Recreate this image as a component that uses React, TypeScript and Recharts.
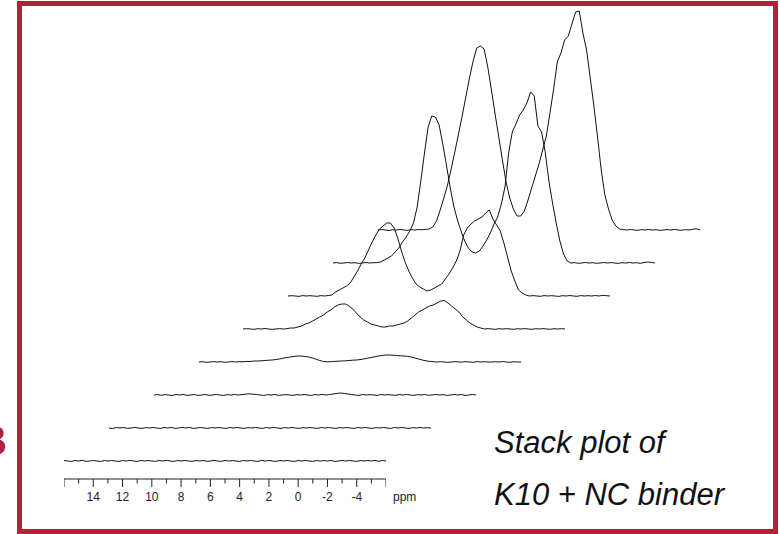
import React from 'react';
import { LineChart, Line, XAxis, YAxis } from 'recharts';

// chemical shift grid (ppm)
const PPM = [
  16, 15.75, 15.5, 15.25,
  15, 14.75, 14.5, 14.25,
  14, 13.75, 13.5, 13.25,
  13, 12.75, 12.5, 12.25,
  12, 11.75, 11.5, 11.25,
  11, 10.75, 10.5, 10.25,
  10, 9.75, 9.5, 9.25,
  9, 8.75, 8.5, 8.25,
  8, 7.75, 7.5, 7.25,
  7, 6.75, 6.5, 6.25,
  6, 5.75, 5.5, 5.25,
  5, 4.75, 4.5, 4.25,
  4, 3.75, 3.5, 3.25,
  3, 2.75, 2.5, 2.25,
  2, 1.75, 1.5, 1.25,
  1, 0.75, 0.5, 0.25,
  0, -0.25, -0.5, -0.75,
  -1, -1.25, -1.5, -1.75,
  -2, -2.25, -2.5, -2.75,
  -3, -3.25, -3.5, -3.75,
  -4, -4.25, -4.5, -4.75,
  -5, -5.25, -5.5, -5.75,
  -6,
];

const AXIS_TICKS = [16, 15, 14, 13, 12, 11, 10, 9, 8, 7, 6, 5, 4, 3, 2, 1, 0, -1, -2, -3, -4, -5, -6];
const LABELLED_TICKS = [14, 12, 10, 8, 6, 4, 2, 0, -2, -4];
const AXIS_UNIT = 'ppm';
const CAPTION = ['Stack plot of', 'K10 + NC binder'];
const PANEL_LETTER = 'B';

// spectra, bottom (1) to top (8)
const SPEC_1 = [
  0.5, 0, -0.4, 0.5,
  0, 0.6, -0.3, 0,
  0.5, 0, -0.5, 0.4,
  0, 0.5, 0, -0.4,
  0.5, 0, 0.6, 0,
  -0.4, 0.5, 0, 0.5,
  0, -0.4, 0.5, 0,
  0.6, 0, -0.4, 0.5,
  0, 0.5, 0, -0.4,
  0.5, 0, 0.5, -0.3,
  0, 0.6, 0, -0.4,
  0.5, 0, 0.4, 0,
  -0.4, 0.5, 0, 0.5,
  0, -0.4, 0.6, 0,
  0.5, 0, -0.4, 0.5,
  0, 0.5, 0, -0.4,
  0.5, 0, 0.5, 0,
  -0.4, 0.5, 0, 0.4,
  0, 0.5, -0.4, 0,
  0.5, 0, 0.5, 0,
  -0.4, 0.5, 0, 0.5,
  0, 0.6, -0.3, 0.5,
  0,
];
const SPEC_2 = [
  0, -0.5, 0.5, 0,
  0.5, -0.4, 0, 0.6,
  0, -0.4, 0.4, 0,
  0.5, 0, -0.5, 0.5,
  0, 0.5, -0.3, 0,
  0.5, 0, 0.6, -0.4,
  0, 0.5, 0, -0.4,
  0.5, 0, 0.5, 0,
  -0.4, 0.5, 0, 0.5,
  0, -0.4, 0.4, 0,
  0.5, 0, -0.4, 0.5,
  0, 0.6, 0, -0.4,
  0.4, 0, 0.5, 0,
  -0.4, 0.4, 0, 0.5,
  0, -0.4, 0.5, 0,
  0.5, 0, -0.4, 0.4,
  0, 0.5, 0, -0.4,
  0.5, 0, 0.5, 0,
  -0.4, 0.4, 0, 0.5,
  0, -0.4, 0.5, 0,
  0.5, 0, -0.4, 0.4,
  0, 0.5, 0, 0.3,
  0,
];
const SPEC_3 = [
  0, 0.5, -0.4, 0.4,
  0, -0.5, 0.5, 0,
  0.6, -0.4, 0, 0.5,
  -0.4, 0, 0.5, -0.3,
  0, 0.5, 0, -0.4,
  0.3, 0, 0.5, 0,
  0.4, 0.8, 1.2, 0.8,
  0.5, 0, -0.4, 0.3,
  0, 0.5, -0.3, 0,
  0.4, 0, -0.4, 0.3,
  0, 0.5, 0, -0.4,
  0.4, 0, 0.6, 0,
  0.5, 1, 1.6, 2,
  1.6, 1, 0.5, 0,
  -0.4, 0.5, 0, 0.4,
  0, -0.4, 0.5, 0,
  0.4, 0, -0.4, 0.5,
  0, 0.5, 0, -0.4,
  0.4, 0, 0.5, -0.3,
  0, 0.5, 0, 0.4,
  -0.4, 0, 0.5, 0,
  0.5, -0.4, 0, 0.5,
  0,
];
const SPEC_4 = [
  0, 0.3, -0.3, 0,
  0.4, 0, 0.3, -0.3,
  0, 0.4, 0, 0.3,
  0.2, 0.6, 0.5, 1,
  1, 1.2, 1.5, 1.8,
  2, 2.5, 3, 3.8,
  4.5, 5, 5.6, 6,
  6, 5.5, 5, 4,
  2.8, 1.5, 0.5, 0.2,
  0.3, 0.6, 0.8, 1,
  1.2, 1.5, 1.8, 2,
  2.4, 3, 3.8, 4.5,
  5.2, 6, 6.5, 7,
  7, 6.8, 6.5, 6.2,
  6, 5.6, 5, 4,
  3, 2, 1.2, 0.6,
  0.3, 0, 0.3, 0,
  -0.3, 0, 0.4, 0,
  0, 0.3, 0, -0.3,
  0.4, 0, 0.3, 0,
  0, 0.3, 0, 0.4,
  0, -0.3, 0.3, 0,
  0,
];
const SPEC_5 = [
  0, 0.4, 0, -0.3,
  0.3, 0, 0.5, 0,
  -0.3, 0, 0.4, 0,
  0.3, 1, 1, 2,
  3, 5, 6, 8,
  10, 12, 14, 17,
  19, 22, 24, 25,
  25, 23, 20, 16,
  12, 9, 7, 5,
  4, 3, 2, 2,
  3, 3, 4, 5,
  6, 8, 11, 14,
  17, 19, 21, 23,
  24, 26, 28, 28.5,
  26, 23, 20, 17,
  12.5, 9, 6, 4,
  2, 1, 0, 0.4,
  0, -0.3, 0.3, 0,
  0.4, 0, -0.3, 0.3,
  0, 0.4, 0, -0.3,
  0.3, 0, 0.4, 0,
  -0.3, 0.3, 0, 0.4,
  0,
];
const SPEC_6 = [
  0, 0.3, 0, -0.4,
  0.4, 0, 0.3, 0,
  -0.3, 0.4, 0, 0.5,
  1, 4, 6, 8,
  10, 13, 19, 25,
  32, 38, 46, 54,
  61, 67, 70, 73,
  73, 68, 58, 45,
  34, 25, 18, 12,
  9, 7, 5, 6,
  8, 10, 12, 17,
  22, 28, 35, 45,
  61, 68, 72, 75,
  77, 79, 83, 86,
  77, 71, 65, 53,
  39, 25, 15, 6,
  3, 1, 0, 0.4,
  0, -0.3, 0.4, 0,
  0.3, 0, -0.4, 0.3,
  0, 0.5, 0, -0.3,
  0.4, 0, 0.3, 0,
  0.5, 0, 0.6, 0.3,
  0,
];
const SPEC_7 = [
  0, 0.4, -0.3, 0,
  0.5, 0, 0.3, -0.4,
  0, 0.5, 0, 0.3,
  0.4, 1, 3, 5,
  7, 11, 15, 21,
  26, 32, 40, 56,
  82, 110, 136, 147,
  146, 138, 119, 98,
  76, 57, 43, 32,
  22, 15, 11, 10,
  12, 17, 23, 30,
  39, 46, 59, 76,
  110, 131, 139, 148,
  153, 160, 171, 167,
  137, 131, 111, 82,
  60, 40, 22, 9,
  2, 0, 0.4, -0.3,
  0, 0.5, 0, 0.3,
  -0.3, 0, 0.5, 0,
  0.4, 0, -0.4, 0.3,
  0, 0.5, 0, 0.3,
  -0.3, 0.4, 1, 0.6,
  0,
];
const SPEC_8 = [
  0, 0.5, 0, -0.5,
  0.3, 0, 0.6, 0,
  -0.4, 0.4, 0, 0.5,
  0.3, 0.6, 1, 3,
  9, 20, 32, 45,
  61, 78, 96, 114,
  133, 152, 169, 182,
  184, 181, 163, 140,
  116, 93, 70, 48,
  32, 21, 14, 14,
  19, 30, 42, 54,
  66, 80, 94, 117,
  141, 168, 177, 190,
  194, 206, 218, 219,
  197, 180, 152, 124,
  93, 60, 35, 21,
  10, 4, 1, 0.4,
  0, 0.5, 0, -0.3,
  0.4, 0, 0.5, 0,
  0.3, -0.4, 0, 0.5,
  0, 0.6, 0, -0.3,
  0.4, 0, 0.8, 1.2,
  0,
];

const SPECTRA = [SPEC_1, SPEC_2, SPEC_3, SPEC_4, SPEC_5, SPEC_6, SPEC_7, SPEC_8];

// layout
const PLOT_W = 322;
const Y_MAX = 240;
const Y_MIN = -18;
const PLOT_H = Y_MAX - Y_MIN;
const AXIS_H = 30;
const FIRST_LEFT = 64;
const FIRST_BASE = 461;
const STEP_X = 44.86;
const STEP_Y = 33;
const FRAME = '#B3203A';
const FONT = 'Arial, "Liberation Sans", Helvetica, sans-serif';

const AxisTick = (props: any) => {
  const { x, y, payload } = props;
  const v = payload.value;
  const major = Math.abs(v % 2) === 0;
  const labelled = LABELLED_TICKS.includes(v);
  return (
    <g>
      <line x1={x} x2={x} y1={y} y2={y + (major ? 8 : 4.5)} stroke="#222" strokeWidth={1} />
      {labelled && (
        <text x={x} y={y + 22} textAnchor="middle" fontSize={12} fontFamily={FONT} fill="#222">
          {v}
        </text>
      )}
    </g>
  );
};

const Spectrum = ({ values, index }: { values: number[]; index: number }) => {
  const data = PPM.map((p, i) => ({ ppm: p, v: values[i] }));
  const left = Math.round(FIRST_LEFT + index * STEP_X);
  const top = FIRST_BASE - index * STEP_Y - Y_MAX;
  const showAxis = index === 0;
  return (
    <div style={{ position: 'absolute', left, top, width: PLOT_W, height: PLOT_H + AXIS_H }}>
      <LineChart width={PLOT_W} height={PLOT_H + AXIS_H} data={data} margin={{ top: 0, right: 0, bottom: 0, left: 0 }}>
        <XAxis
          dataKey="ppm"
          type="number"
          domain={[-6, 16]}
          reversed
          ticks={AXIS_TICKS}
          interval={0}
          height={AXIS_H}
          axisLine={showAxis ? { stroke: '#222', strokeWidth: 1 } : false}
          tickLine={false}
          tickSize={0}
          tickMargin={0}
          tick={showAxis ? <AxisTick /> : false}
        />
        <YAxis hide type="number" domain={[Y_MIN, Y_MAX]} allowDataOverflow />
        <Line
          type="linear"
          dataKey="v"
          stroke="#111"
          strokeWidth={1}
          dot={false}
          activeDot={false}
          isAnimationActive={false}
        />
      </LineChart>
    </div>
  );
};

export default function App() {
  return (
    <div
      style={{
        position: 'absolute',
        left: 0,
        top: 0,
        width: 780,
        height: 534,
        overflow: 'hidden',
        background: '#fff',
      }}
    >
      <div
        style={{
          position: 'absolute',
          left: 17,
          top: 1,
          width: 761,
          height: 533,
          boxSizing: 'border-box',
          border: `5px solid ${FRAME}`,
        }}
      />
      {SPECTRA.map((s, i) => (
        <Spectrum key={i} values={s} index={i} />
      ))}
      <svg
        width={780}
        height={534}
        style={{ position: 'absolute', left: 0, top: 0, pointerEvents: 'none' }}
      >
        <text x={7} y={455} textAnchor="end" fontSize={42} fontWeight="bold" fontFamily={FONT} fill={FRAME}>
          {PANEL_LETTER}
        </text>
        <text x={393} y={501} fontSize={12} fontFamily={FONT} fill="#222">
          {AXIS_UNIT}
        </text>
        <text x={494} y={453} fontSize={31} fontStyle="italic" fontFamily={FONT} fill="#111">
          {CAPTION[0]}
        </text>
        <text x={494} y={505} fontSize={31} fontStyle="italic" fontFamily={FONT} fill="#111">
          {CAPTION[1]}
        </text>
      </svg>
    </div>
  );
}
